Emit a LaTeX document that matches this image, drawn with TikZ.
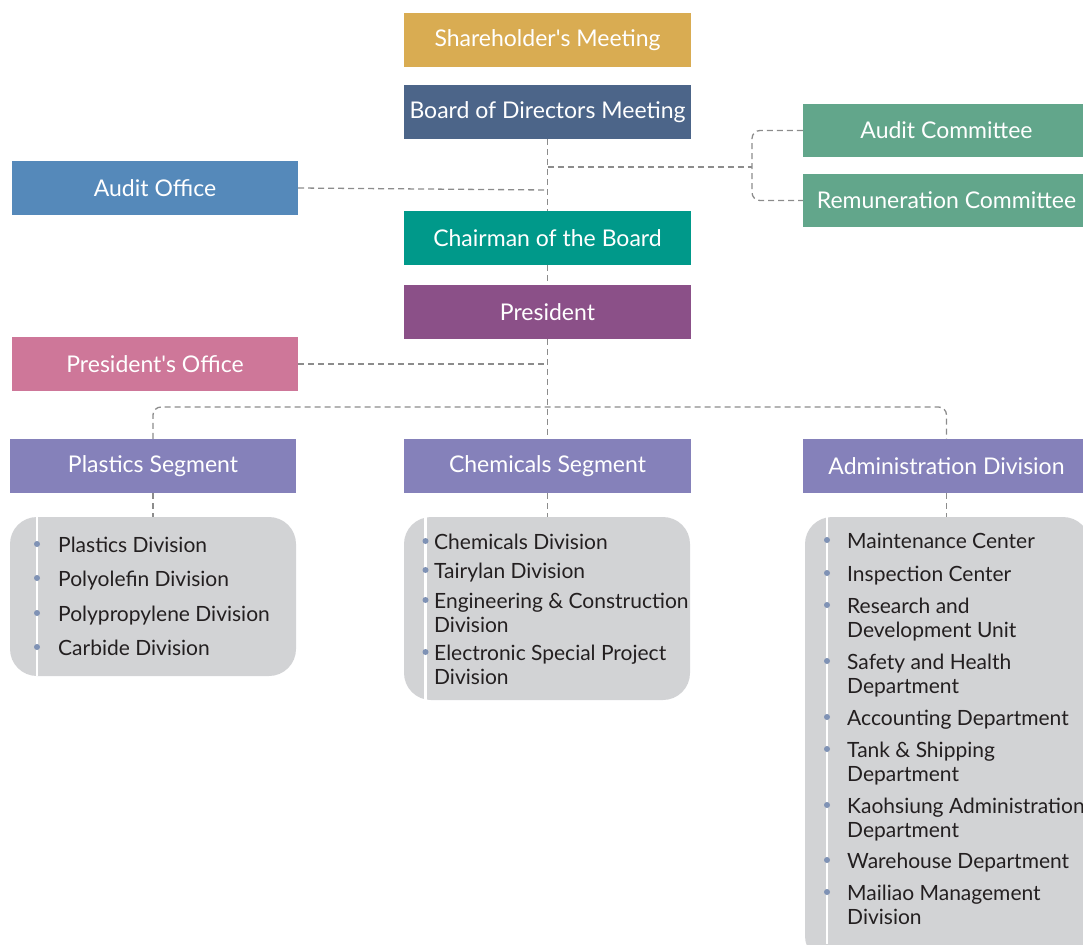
\documentclass[tikz,border=0pt]{standalone}
\usepackage{fontspec}
\setmainfont{Lato}
\definecolor{cShare}{HTML}{D9AC52}
\definecolor{cBoard}{HTML}{4C6589}
\definecolor{cAoff}{HTML}{5589BA}
\definecolor{cComm}{HTML}{62A68B}
\definecolor{cChair}{HTML}{00998A}
\definecolor{cPres}{HTML}{8B5088}
\definecolor{cPoff}{HTML}{CE7799}
\definecolor{cSeg}{HTML}{8581BA}
\definecolor{lgray}{HTML}{D2D3D5}
\definecolor{dashc}{HTML}{8C8C8C}
\definecolor{ltext}{HTML}{231F20}
\definecolor{bulc}{HTML}{7F92B5}
\begin{document}
\begin{tikzpicture}[x=1pt,y=-1pt,
  hdr/.style={rectangle, minimum width=287pt, minimum height=54pt, inner sep=0pt, text=white, font=\fontsize{23}{27}\selectfont},
  conn/.style={draw=dashc, line width=1.3pt, dash pattern=on 6pt off 4pt},
  lbox/.style={rectangle, fill=lgray, rounded corners=27pt, draw=none, inner sep=0pt},
  ltxt/.style={anchor=base west, inner sep=0pt, text=ltext, font=\fontsize{21}{24}\selectfont},
  bul/.style={circle, fill=bulc, inner sep=0pt, minimum size=6pt},
  wline/.style={draw=white, line width=2.5pt}
]
\useasboundingbox (0,0) rectangle (1083,944);
\clip (0,0) rectangle (1083,944);
% header boxes
\node[hdr, fill=cShare] (share) at (547.5,40) {Shareholder\textquotesingle s Meeting};
\node[hdr, fill=cBoard] (board) at (547.5,112) {Board of Directors Meeting};
\node[hdr, fill=cAoff, minimum width=286pt] (aoff) at (155,188) {Audit Office};
\node[hdr, fill=cComm, minimum height=53pt] (acom) at (946.5,130.5) {Audit Committee};
\node[hdr, fill=cComm, minimum height=53pt] (rcom) at (946.5,200.5) {Remuneration Committee};
\node[hdr, fill=cChair] (chair) at (547.5,238) {Chairman of the Board};
\node[hdr, fill=cPres] (pres) at (547.5,312) {President};
\node[hdr, fill=cPoff, minimum width=286pt] (poff) at (155,364) {President\textquotesingle s Office};
\node[hdr, fill=cSeg, minimum width=286pt] (pseg) at (153,466) {Plastics Segment};
\node[hdr, fill=cSeg] (cseg) at (547.5,466) {Chemicals Segment};
\node[hdr, fill=cSeg] (aseg) at (946.5,466) {Administration Division};
% list boxes
\node[lbox, minimum width=286pt, minimum height=159pt] (plist) at (153,596.5) {};
\node[lbox, minimum width=286pt, minimum height=183pt] (clist) at (547,608.5) {};
\node[lbox, minimum width=285pt, minimum height=446pt] (alist) at (947.5,740) {};
\draw[wline] (37,517) -- (37,676);
\draw[wline] (425.5,517) -- (425.5,700);
\draw[wline] (827,517) -- (827,944);
% connectors
\coordinate (jc) at (547.5,167);
\coordinate (jr) at (752,167);
\coordinate (ja) at (547.5,190);
\coordinate (jp) at (547.5,364);
\coordinate (jh) at (547.5,407);
\draw[conn] (board.south) -- (chair.north);
\draw[conn] (jc) -- (jr);
\draw[conn, rounded corners=8pt] (acom.west) -| (jr) |- (rcom.west);
\draw[conn] (aoff.east) -- (ja);
\draw[conn] (chair.south) -- (pres.north);
\draw[conn] (pres.south) -- (cseg.north);
\draw[conn] (poff.east) -- (jp);
\draw[conn, rounded corners=8pt] (pseg.north) |- (jh) -| (aseg.north);
\draw[conn] (pseg.south) -- (plist.north);
\draw[conn] (cseg.south) -- (clist.north -| cseg.south);
\draw[conn] (aseg.south) -- (alist.north -| aseg.south);
% list items
\foreach \t/\yy/\b [count=\i] in {{Plastics Division}/552/1,{Polyolefin Division}/586/1,{Polypropylene Division}/621/1,{Carbide Division}/655/1}{
  \node[ltxt] (p\i) at (58,\yy) {\t};
  \ifnum\b=1 \node[bul] (pb\i) at (37,{\yy-8}) {};\fi
}
\foreach \t/\yy/\b [count=\i] in {{Chemicals Division}/549/1,{Tairylan Division}/578/1,{Engineering \& Construction}/608/1,{Division}/632/0,{Electronic Special Project}/660/1,{Division}/684/0}{
  \node[ltxt] (c\i) at (434,\yy) {\t};
  \ifnum\b=1 \node[bul] (cb\i) at (425.5,{\yy-8}) {};\fi
}
\foreach \t/\yy/\b [count=\i] in {{Maintenance Center}/548/1,{Inspection Center}/581/1,{Research and}/613/1,{Development Unit}/637/0,{Safety and Health}/669/1,{Department}/693/0,{Accounting Department}/725/1,{Tank \& Shipping}/757/1,{Department}/781/0,{Kaohsiung Administration}/813/1,{Department}/837/0,{Warehouse Department}/868/1,{Mailiao Management}/900/1,{Division}/924/0}{
  \node[ltxt] (a\i) at (847,\yy) {\t};
  \ifnum\b=1 \node[bul] (ab\i) at (827,{\yy-8}) {};\fi
}
\end{tikzpicture}
\end{document}
